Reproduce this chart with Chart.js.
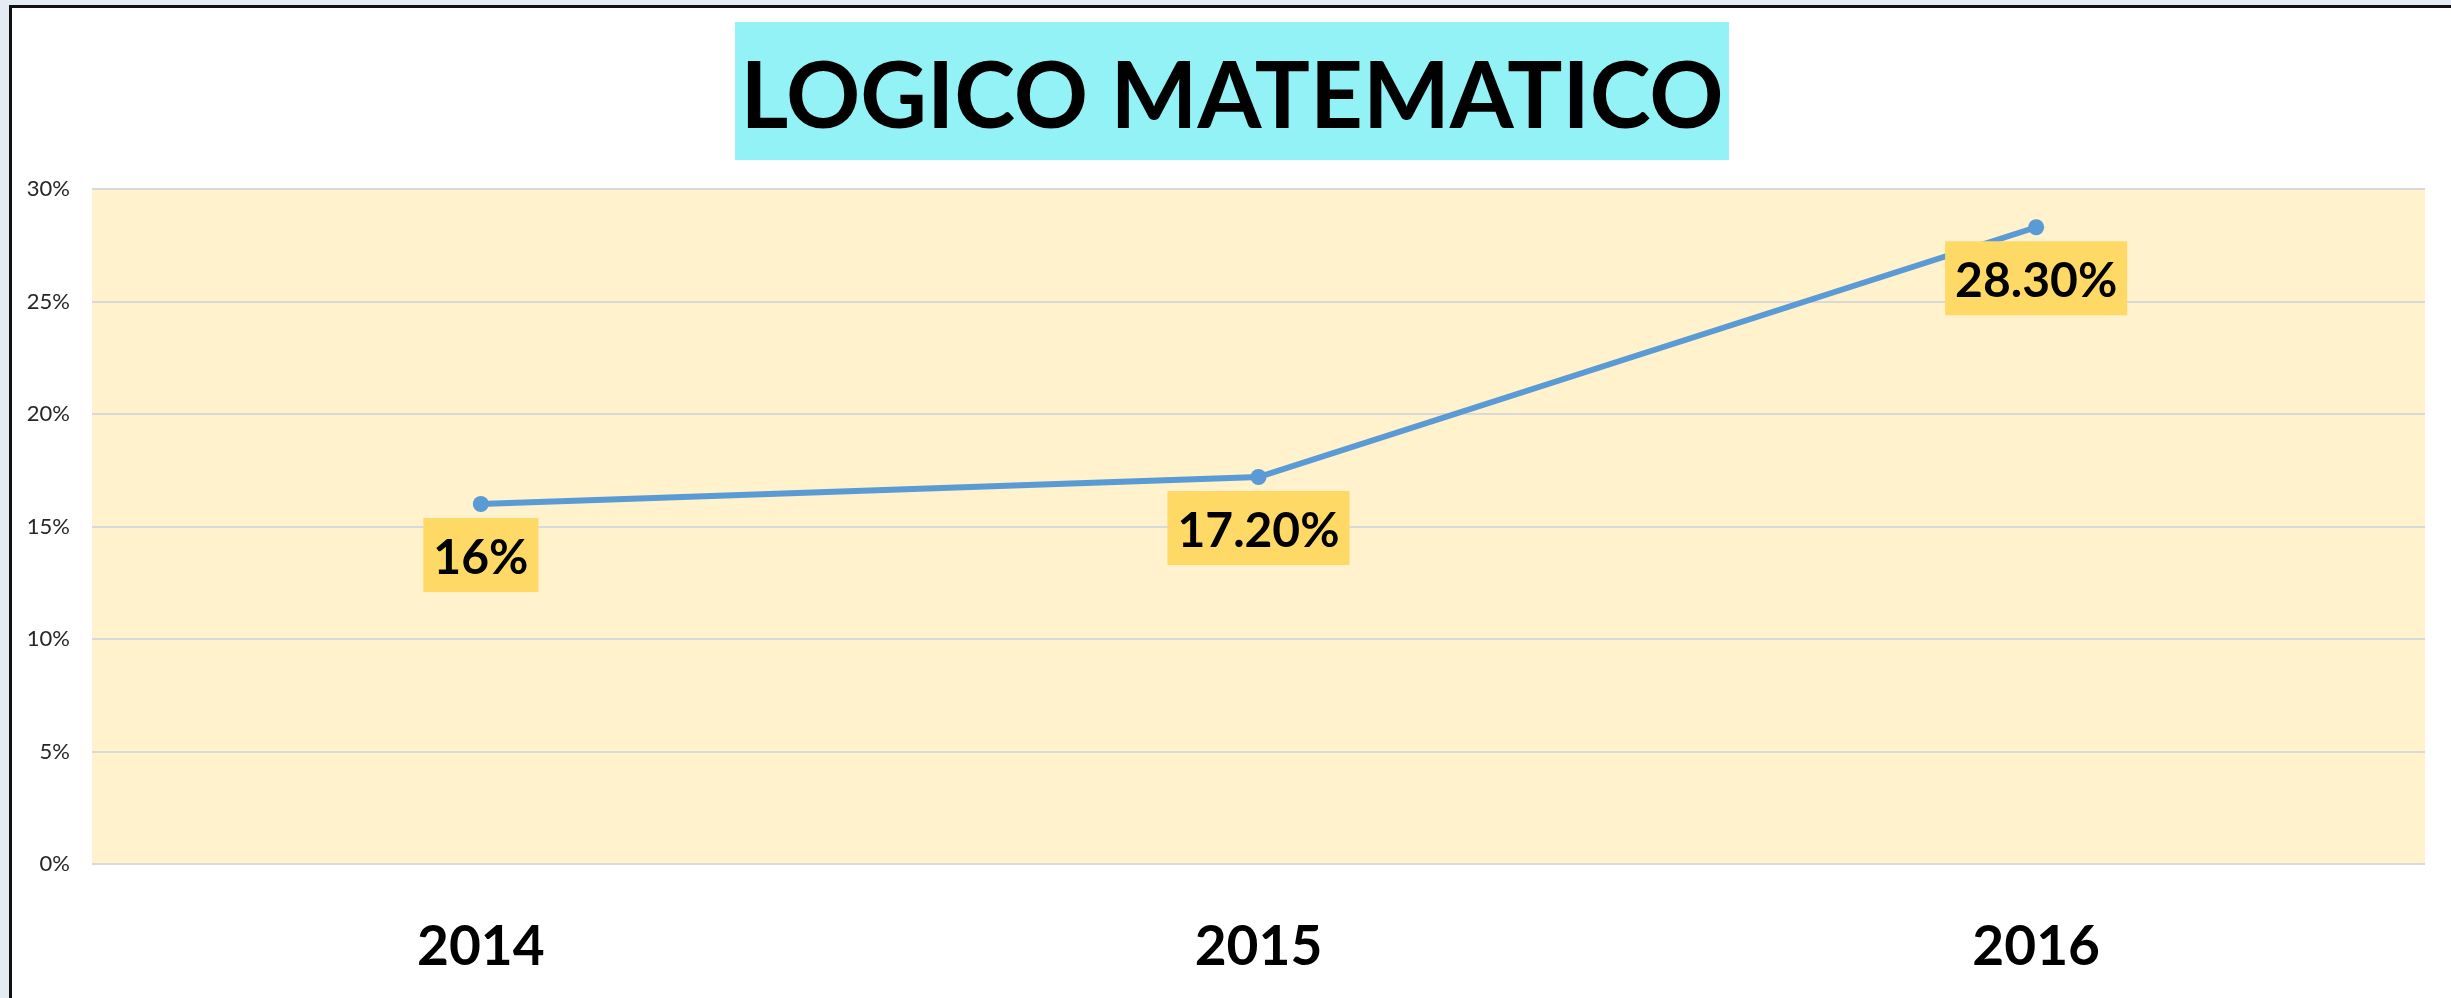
<!DOCTYPE html>
<html>
<head>
<meta charset="utf-8">
<script src="https://cdn.jsdelivr.net/npm/chart.js@4"></script>
<style>
  html, body { margin: 0; padding: 0; background: #e4ebf3; }
  canvas { display: block; }
</style>
</head>
<body>
<canvas id="line-chart" width="2451" height="998"></canvas>
<script>
const labels = ['2014', '2015', '2016'];
const values = [0.16, 0.172, 0.283];
const valueLabels = ['16%', '17.20%', '28.30%'];
const chartTitle = 'LOGICO MATEMATICO';

// background, frame and title box
const framePlugin = {
  id: 'frame',
  beforeDraw(chart) {
    const ctx = chart.ctx, w = chart.width, h = chart.height, a = chart.chartArea;
    ctx.save();
    ctx.fillStyle = '#e4ebf3';
    ctx.fillRect(0, 0, w, h);
    ctx.fillStyle = '#ffffff';
    ctx.fillRect(9, 5, w, h);
    ctx.fillStyle = '#111111';
    ctx.fillRect(9, 5, 3, h);
    ctx.fillRect(9, 5, w, 3);
    ctx.fillStyle = '#fff2cc';
    ctx.fillRect(a.left, a.top, a.right - a.left, a.bottom - a.top);

    ctx.fillStyle = '#93f2f5';
    ctx.fillRect(735, 22, 994, 138);
    ctx.fillStyle = '#000000';
    ctx.font = 'bold 92px Lato';
    ctx.textAlign = 'center';
    ctx.textBaseline = 'alphabetic';
    ctx.fillText(chartTitle, 1232, 128);
    ctx.restore();
  }
};

// yellow value boxes under each point
const valueLabelPlugin = {
  id: 'valueLabels',
  afterDatasetsDraw(chart) {
    const ctx = chart.ctx;
    const meta = chart.getDatasetMeta(0);
    ctx.save();
    ctx.font = 'bold 48px Lato';
    ctx.textAlign = 'center';
    ctx.textBaseline = 'alphabetic';
    meta.data.forEach(function(pt, i) {
      const txt = valueLabels[i];
      const tw = ctx.measureText(txt).width;
      const bw = tw + 20, bh = 74;
      const top = pt.y + 14;
      ctx.fillStyle = '#ffd966';
      ctx.fillRect(pt.x - bw / 2, top, bw, bh);
      ctx.fillStyle = '#000000';
      ctx.fillText(txt, pt.x, top + 56);
    });
    ctx.restore();
  }
};

const data = {
  labels: labels,
  datasets: [{
    label: chartTitle,
    data: values,
    borderColor: '#5b9bd5',
    backgroundColor: '#5b9bd5',
    borderWidth: 6,
    tension: 0,
    pointRadius: 8,
    pointBorderWidth: 0,
    pointBackgroundColor: '#5b9bd5'
  }]
};

const config = {
  type: 'line',
  data: data,
  plugins: [framePlugin, valueLabelPlugin],
  options: {
    responsive: false,
    animation: false,
    layout: { padding: { top: 189, right: 26, left: 0, bottom: 0 } },
    plugins: {
      legend: { display: false },
      tooltip: { enabled: false },
      title: { display: false }
    },
    scales: {
      x: {
        offset: true,
        grid: { display: false, drawTicks: false },
        border: { display: false },
        ticks: {
          padding: 50,
          color: '#000000',
          font: { family: 'Lato', weight: 'bold', size: 55, lineHeight: 1.2 }
        },
        afterFit(scale) { scale.height = 134; }
      },
      y: {
        min: 0,
        max: 0.3,
        grid: { color: '#d9d9d9', lineWidth: 2, drawTicks: false },
        border: { display: false },
        ticks: {
          stepSize: 0.05,
          padding: 22,
          color: '#262626',
          font: { family: 'Lato', size: 22 },
          callback: function(v) { return Math.round(v * 100) + '%'; }
        },
        afterFit(scale) { scale.width = 92; }
      }
    }
  }
};

window.onload = function() {
  var ctx = document.getElementById('line-chart').getContext('2d');
  window.myLine = new Chart(ctx, config);
};
</script>
</body>
</html>
